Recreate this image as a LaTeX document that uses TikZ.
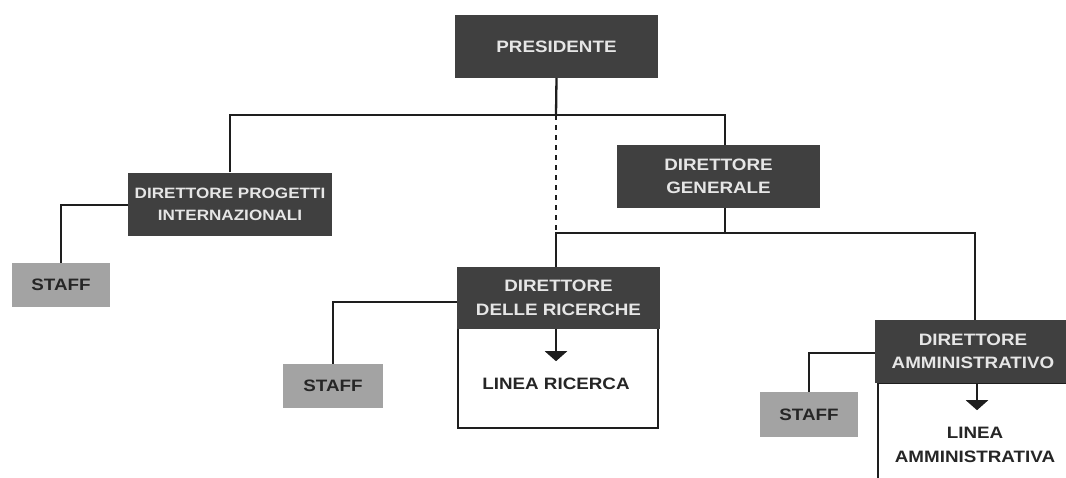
\documentclass[tikz,border=0pt]{standalone}
\usepackage{fontspec}
\setmainfont{Liberation Sans}[FakeStretch=1.14]
\usetikzlibrary{arrows.meta}
\definecolor{darkbox}{HTML}{404040}
\definecolor{darktext}{HTML}{E6E6E6}
\definecolor{staffbox}{HTML}{A3A3A3}
\definecolor{stafftext}{HTML}{262626}
\definecolor{linec}{HTML}{1E1E1E}
\tikzset{
  head/.style={rectangle, fill=darkbox, text=darktext, font=\fontsize{16.5}{23.5}\selectfont\bfseries, align=center, inner sep=0pt},
  staffbox/.style={rectangle, fill=staffbox, text=stafftext, font=\fontsize{16.5}{23.5}\selectfont\bfseries, minimum width=98pt, minimum height=44pt, inner sep=0pt},
  linebox/.style={rectangle, draw=linec, line width=2.3pt, fill=white, inner sep=0pt},
  linetext/.style={text=stafftext, font=\fontsize{16.5}{23.5}\selectfont\bfseries, align=center, inner sep=0pt},
  conn/.style={draw=linec, line width=2.3pt},
  tri/.style={conn, -{Triangle[width=22pt,length=10pt]}},
}
\begin{document}
\begin{tikzpicture}[x=1pt,y=-1pt]
\useasboundingbox (0,0) rectangle (1066,477);
\clip (0,0) rectangle (1066,477);
% boxes
\node[head, minimum width=203pt, minimum height=63pt] (pres) at (556.5,46.5) {PRESIDENTE};
\node[head, minimum width=204pt, minimum height=63pt, font=\fontsize{15}{22}\selectfont\bfseries] (dpi) at (230,204) {DIRETTORE PROGETTI\\INTERNAZIONALI};
\node[staffbox] (staff1) at (61,285) {STAFF};
\node[head, minimum width=203pt, minimum height=63pt] (dg) at (718.5,176.5) {DIRETTORE\\GENERALE};
% ricerche
\node[linebox, minimum width=200pt, minimum height=100pt] (drbox) at (558,378) {};
\node[head, minimum width=203pt, minimum height=62pt] (dr) at (558.5,298) {DIRETTORE\\DELLE RICERCHE};
\node[linetext] (lr) at (556,384) {LINEA RICERCA};
\node[staffbox, minimum width=100pt] (staff2) at (333,386) {STAFF};
% amministrativo
\node[linebox, minimum width=200pt, minimum height=120pt] (dabox) at (978,443) {};
\node[head, minimum width=196pt, minimum height=63pt] (da) at (973,351.5) {DIRETTORE\\AMMINISTRATIVO};
\node[linetext] (la) at (975,445) {LINEA\\AMMINISTRATIVA};
\node[staffbox, minimum height=45pt] (staff3) at (809,414.5) {STAFF};
% junctions
\coordinate (j1) at (556,115);
\coordinate (j2) at (556,233);
% connectors
\draw[conn] (pres.south) -- (j1);
\draw[conn] (dpi.north) |- (j1) -| ([xshift=6.5pt]dg.north);
\draw[conn, line width=2.8pt, dash pattern=on 5pt off 5pt] (j1) -- (j2);
\draw[conn] ([xshift=6.5pt]dg.south) |- (j2) -- (dr.north -| j2);
\draw[conn] ([xshift=6.5pt]dg.south |- j2) -| ([xshift=2pt]da.north);
\draw[conn] ([yshift=-1pt]dpi.west) -| (staff1.north);
\draw[conn] ([yshift=-4pt]dr.west) -| (staff2.north);
\draw[conn] ([yshift=-1.5pt]da.west) -| (staff3.north);
\draw[tri] ([xshift=-2.5pt]dr.south) -- ++(0,32);
\draw[tri] ([xshift=4pt]da.south) -- ++(0,27);
\end{tikzpicture}
\end{document}
